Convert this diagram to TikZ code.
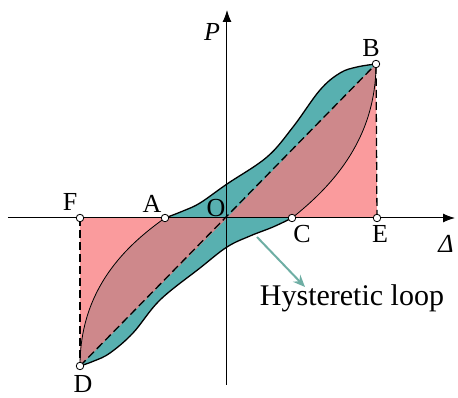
\documentclass[tikz,border=0pt]{standalone}
\usepackage{fontspec}
\setmainfont{Liberation Serif}
\usetikzlibrary{arrows.meta}
\definecolor{pinkc}{RGB}{250,155,157}
\definecolor{tealc}{RGB}{88,176,176}
\definecolor{dustyc}{RGB}{206,136,139}
\definecolor{ptrc}{RGB}{110,174,164}
\tikzset{
  ptmark/.style={circle,draw=black,fill=white,line width=0.8pt,inner sep=0pt,minimum size=7.5pt},
  lbl/.style={font=\fontsize{26}{30}\selectfont,inner sep=0pt},
  dashedline/.style={line width=1.3pt,dash pattern=on 8pt off 4pt},
  branch/.style={line width=1.3pt},
  thincurve/.style={line width=0.8pt},
  axisline/.style={line width=1pt,-{Latex[length=12pt,width=9pt]}},
}
\begin{document}
\begin{tikzpicture}[x=1pt,y=1pt]
\useasboundingbox (-227,-180) rectangle (231,218);
\coordinate (O) at (0,0);
\coordinate (A) at (-62,0);
\coordinate (B) at (149,154);
\coordinate (C) at (65,0);
\coordinate (D) at (-147,-148);
\coordinate (E) at (150,0);
\coordinate (F) at (-147,0);
\coordinate (xl) at (-219,0);
\coordinate (xr) at (228,0);
\coordinate (yb) at (0,-167);
\coordinate (yt) at (0,208);
\coordinate (ps) at (30,-19);
\coordinate (pe) at (78,-69);
\def\looppath{(A) -- plot[smooth,tension=0.6] coordinates {(-62,0) (-44,7) (-27,15) (0,34) (40,61) (66,91) (93,128) (113,145) (130,151) (149,154)} .. controls (149,75) and (100,28) .. (C) -- plot[smooth,tension=0.6] coordinates {(65,0) (46,-9) (23,-18) (0,-29) (-27,-50) (-67,-82) (-94,-115) (-117,-135) (-133,-143) (-147,-148)} .. controls (-147,-70) and (-100,-27) .. (A) -- cycle}
% strain energy triangles
\fill[pinkc] (O) -- (E) -- (B) -- cycle;
\fill[pinkc] (O) -- (D) -- (F) -- cycle;
% hysteretic loop
\fill[tealc] \looppath;
\begin{scope}
  \clip (O) -- (E) -- (B) -- cycle (O) -- (D) -- (F) -- cycle;
  \fill[dustyc] \looppath;
\end{scope}
% outlines
\draw[branch] (A) -- plot[smooth,tension=0.6] coordinates {(-62,0) (-44,7) (-27,15) (0,34) (40,61) (66,91) (93,128) (113,145) (130,151) (149,154)};
\draw[branch] (C) -- plot[smooth,tension=0.6] coordinates {(65,0) (46,-9) (23,-18) (0,-29) (-27,-50) (-67,-82) (-94,-115) (-117,-135) (-133,-143) (-147,-148)};
\draw[thincurve] (B) .. controls (149,75) and (100,28) .. (C);
\draw[thincurve] (D) .. controls (-147,-70) and (-100,-27) .. (A);
\draw[dashedline] (D) -- (B);
\draw[dashedline] (F) -- (D);
\draw[dashedline] (E) -- (B);
% axes
\draw[axisline] (xl) -- (xr);
\draw[axisline] (yb) -- (yt);
% points
\node[ptmark] (nA) at (A) {};
\node[ptmark] (nB) at (B) {};
\node[ptmark] (nC) at (C) {};
\node[ptmark] (nD) at (D) {};
\node[ptmark] (nE) at (E) {};
\node[ptmark] (nF) at (F) {};
% labels
\node[lbl] (lP) at (-15,186) {\textit{P}};
\node[lbl] (lB) at (144,170) {B};
\node[lbl] (lF) at (-157,16) {F};
\node[lbl] (lA) at (-75,14) {A};
\node[lbl] (lO) at (-11,10) {O};
\node[lbl] (lC) at (75,-16) {C};
\node[lbl] (lE) at (153,-16) {E};
\node[lbl] (lDel) at (219,-26) {\textit{Δ}};
\node[lbl] (lD) at (-144,-166) {D};
% pointer
\draw[ptrc,line width=2pt,-{Stealth[length=12pt,width=10pt]}] (ps) -- (pe);
\node[font=\fontsize{30}{34}\selectfont,inner sep=0pt] (hl) at (125,-80) {Hysteretic loop};
\end{tikzpicture}
\end{document}
